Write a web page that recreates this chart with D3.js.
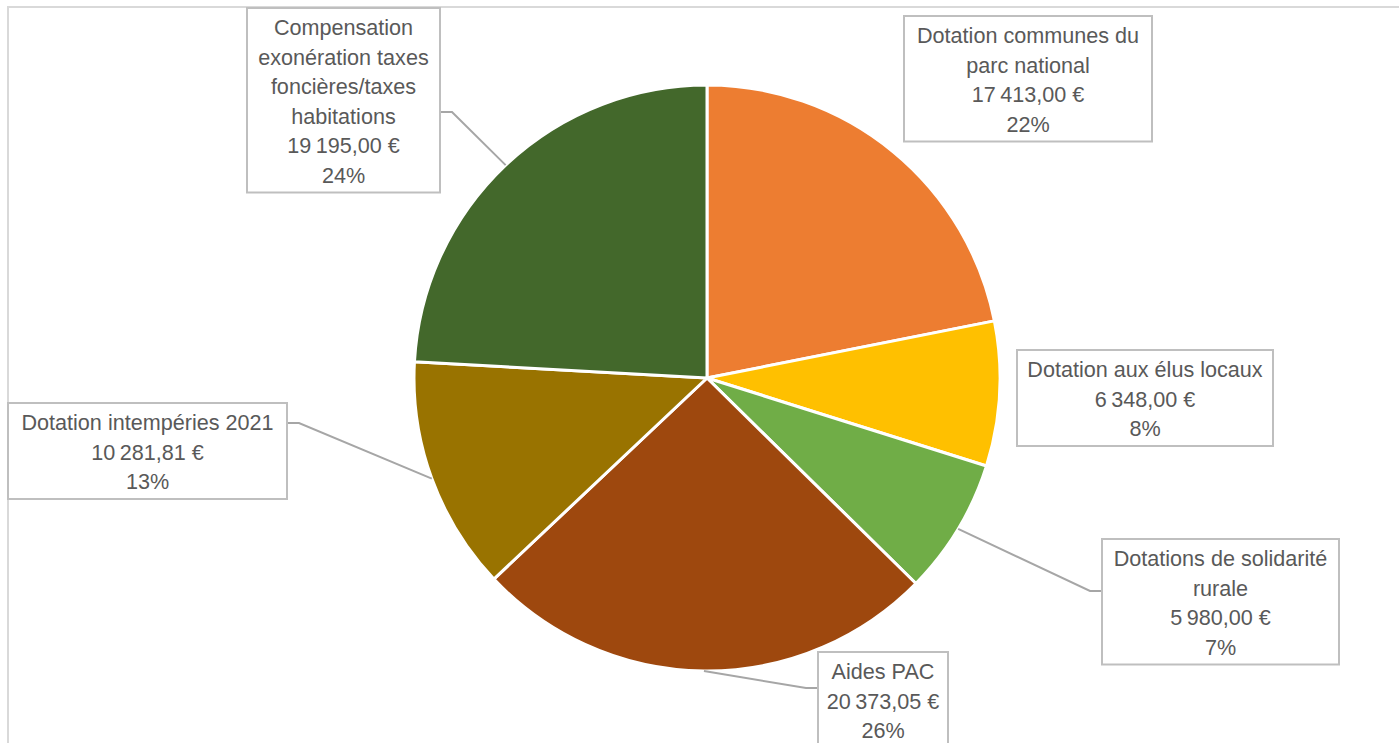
<!DOCTYPE html>
<html><head><meta charset="utf-8">
<script src="https://cdn.jsdelivr.net/npm/d3@7"></script>
<style>html,body{margin:0;padding:0;background:#fff;}svg{display:block;}</style>
</head><body>
<svg id="chart" width="1399" height="743"></svg>
<script>
// Data
const categories = [
  "Dotation communes du parc national",
  "Dotation aux élus locaux",
  "Dotations de solidarité rurale",
  "Aides PAC",
  "Dotation intempéries 2021",
  "Compensation exonération taxes foncières/taxes habitations"
];
const values = [17413.00, 6348.00, 5980.00, 20373.05, 10281.81, 19195.00];
const labelLines = [
  ["Dotation communes du", "parc national"],
  ["Dotation aux élus locaux"],
  ["Dotations de solidarité", "rurale"],
  ["Aides PAC"],
  ["Dotation intempéries 2021"],
  ["Compensation", "exonération taxes", "foncières/taxes", "habitations"]
];
const colors = ["#ED7D31", "#FFC000", "#70AD47", "#9E480E", "#997300", "#43682B"];

// Layout (label boxes: x, y, w, leader anchor side & y)
const boxes = [
  {x: 904, y: 16, w: 248, leader: null},
  {x: 1017, y: 350, w: 256, leader: null},
  {x: 1102, y: 539, w: 237, leader: {side: "left", y: 591}},
  {x: 818, y: 652, w: 130, leader: {side: "left", y: 688}},
  {x: 8, y: 403, w: 279, leader: {side: "right", y: 423}},
  {x: 247, y: 8, w: 193, leader: {side: "right", y: 112}}
];

const svg = d3.select("#chart");
const cx = 707, cy = 378, R = 293;
const lineH = 29.5;

// chart frame
svg.append("rect").attr("x", 8).attr("y", 7).attr("width", 1500).attr("height", 900)
  .attr("fill", "#fff").attr("stroke", "#d9d9d9").attr("stroke-width", 2);

const total = d3.sum(values);
// largest remainder rounding for percentages
const raw = values.map(v => v / total * 100);
const pct = raw.map(Math.floor);
let rem = 100 - d3.sum(pct);
raw.map((r, i) => ({i, f: r - Math.floor(r)})).sort((a, b) => b.f - a.f)
  .slice(0, rem).forEach(d => pct[d.i] += 1);

const fr = d3.formatLocale({decimal: ",", thousands: "\u202f", grouping: [3], currency: ["", "\u00a0€"]});
const fmt = fr.format("$,.2f");

const pie = d3.pie().sort(null).value(d => d)(values);
const arc = d3.arc().innerRadius(0).outerRadius(R);

const g = svg.append("g").attr("transform", `translate(${cx},${cy})`);

// leader lines (drawn under the pie)
const leaders = svg.append("g");
pie.forEach((p, i) => {
  const b = boxes[i];
  if (!b.leader) return;
  const mid = (p.startAngle + p.endAngle) / 2;
  const ex = cx + R * Math.sin(mid), ey = cy - R * Math.cos(mid);
  const ax = b.leader.side === "left" ? b.x : b.x + b.w;
  const hx = b.leader.side === "left" ? ax - 12 : ax + 12;
  leaders.append("polyline")
    .attr("points", `${ax},${b.leader.y} ${hx},${b.leader.y} ${ex},${ey}`)
    .attr("fill", "none").attr("stroke", "#a6a6a6").attr("stroke-width", 2);
});

g.selectAll("path").data(pie).join("path")
  .attr("d", arc)
  .attr("fill", (d, i) => colors[i])
  .attr("stroke", "#fff").attr("stroke-width", 3).attr("stroke-linejoin", "round");

// label boxes
pie.forEach((p, i) => {
  const b = boxes[i];
  const lines = labelLines[i].concat([fmt(values[i]), pct[i] + "%"]);
  const h = lines.length * lineH + 7.5;
  const lg = svg.append("g");
  lg.append("rect").attr("x", b.x).attr("y", b.y).attr("width", b.w).attr("height", h)
    .attr("fill", "#fff").attr("stroke", "#bfbfbf").attr("stroke-width", 2);
  const t = lg.append("text")
    .attr("font-family", "'Liberation Sans', Arial, sans-serif")
    .attr("font-size", 21.6).attr("fill", "#595959").attr("text-anchor", "middle");
  lines.forEach((l, k) => {
    t.append("tspan").attr("x", b.x + b.w / 2).attr("y", b.y + 27 + k * lineH).text(l);
  });
});
</script>
</body></html>
